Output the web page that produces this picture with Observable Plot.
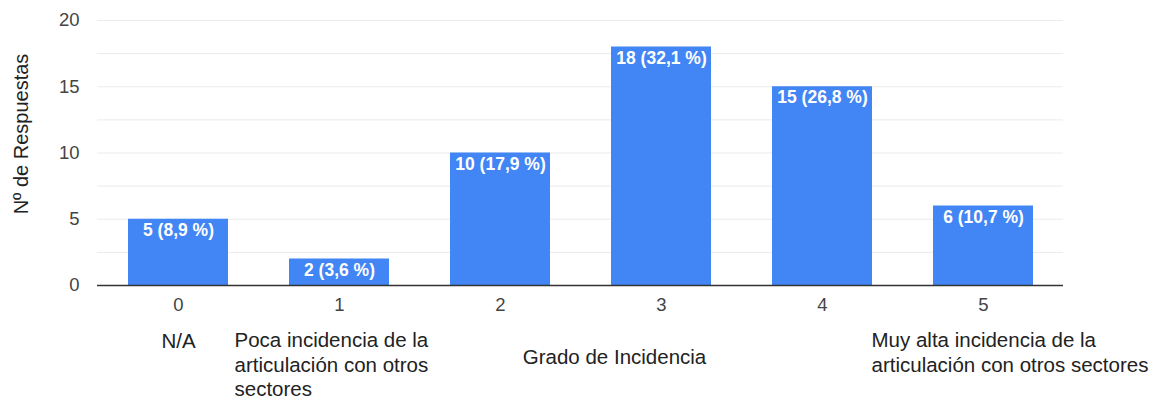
<!DOCTYPE html>
<html>
<head>
<meta charset="utf-8">
<script src="https://cdn.jsdelivr.net/npm/d3@7"></script>
<script src="https://cdn.jsdelivr.net/npm/@observablehq/plot@0.6"></script>
<style>
  html, body { margin: 0; padding: 0; background: #fff; }
  #chart svg { overflow: visible; display: block; }
</style>
</head>
<body>
<div id="chart"></div>
<script>
const categories = [0, 1, 2, 3, 4, 5];
const counts = [5, 2, 10, 18, 15, 6];
const percents = ["8,9", "3,6", "17,9", "32,1", "26,8", "10,7"];
const yTicks = [0, 5, 10, 15, 20];
const gridTicks = [2.5, 5, 7.5, 10, 12.5, 15, 17.5, 20];
const yLabel = "Nº de Respuestas";
const xLabel = "Grado de Incidencia";
const lowLabel = "Poca incidencia de la\narticulación con otros\nsectores";
const highLabel = "Muy alta incidencia de la\narticulación con otros sectores";
const naLabel = "N/A";

const data = categories.map((c, i) => ({cat: c, count: counts[i], label: `${counts[i]} (${percents[i]} %)`}));

const font = "'Liberation Sans', Arial, sans-serif";

const chart = Plot.plot({
  width: 1154,
  height: 401,
  marginLeft: 97,
  marginRight: 91,
  marginTop: 20,
  marginBottom: 116,
  style: {fontFamily: font, background: "#fff"},
  x: {type: "band", domain: categories, paddingInner: 0.38, paddingOuter: 0.19, label: null},
  y: {domain: [0, 20], label: null},
  marks: [
    Plot.ruleY(gridTicks, {stroke: "#ebebeb", strokeWidth: 1}),
    Plot.barY(data, {x: "cat", y: "count", fill: "#4285f4"}),
    Plot.ruleY([0], {stroke: "#333", strokeWidth: 1.5}),
    Plot.text(data, {x: "cat", y: "count", text: "label", fill: "#fff", fontSize: 17.5, dy: 11, lineAnchor: "middle", fontWeight: "bold"}),
    Plot.axisY({ticks: yTicks, tickSize: 0, tickPadding: 18, fontSize: 18.5, color: "#444", label: null}),
    Plot.axisX({tickSize: 0, tickPadding: 12, fontSize: 18.5, color: "#444", label: null}),
    Plot.text([yLabel], {frameAnchor: "left", textAnchor: "middle", rotate: -90, dx: -76, dy: -19, fontSize: 20, fill: "#222"}),
    Plot.text([xLabel], {frameAnchor: "bottom", dx: 34, dy: 64, lineAnchor: "top", fontSize: 20.5, fill: "#222"}),
    Plot.text([naLabel], {x: [categories[0]], frameAnchor: "bottom", dy: 48, lineAnchor: "top", fontSize: 20.5, fill: "#222"}),
    Plot.text([lowLabel], {x: [categories[1]], frameAnchor: "bottom", dx: -105, dy: 44, lineAnchor: "top", textAnchor: "start", lineHeight: 1.2, fontSize: 20.5, fill: "#222"}),
    Plot.text([highLabel], {x: [categories[5]], frameAnchor: "bottom", dx: -112, dy: 44, lineAnchor: "top", textAnchor: "start", lineHeight: 1.2, fontSize: 20.5, fill: "#222"})
  ]
});
document.getElementById("chart").appendChild(chart);
</script>
</body>
</html>
